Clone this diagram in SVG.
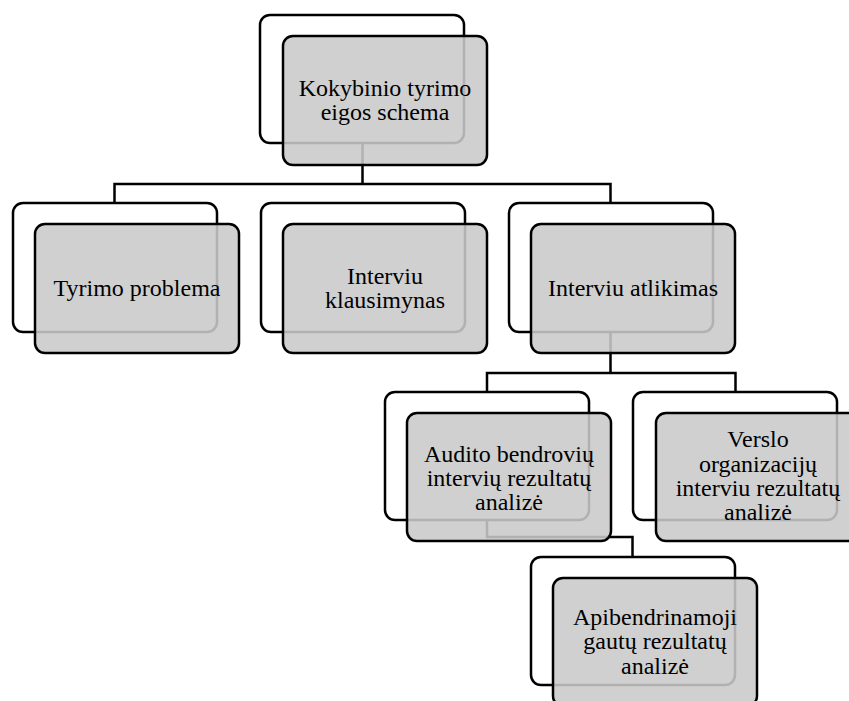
<svg xmlns="http://www.w3.org/2000/svg" width="849" height="701" viewBox="0 0 849 701">
<style>
.back{fill:#ffffff;stroke:#000;stroke-width:2.5}
.front{fill:#cacaca;fill-opacity:0.88;stroke:#000;stroke-width:2.5}
.conn{fill:none;stroke:#000;stroke-width:2.5}
text{font-family:"Liberation Serif","Times New Roman",serif;font-size:24px;fill:#000;text-anchor:middle}
</style>
<rect width="849" height="701" fill="#fff"/>
<g id="connectors">
<path class="conn" d="M362.5,143 V184 M114.5,203 V184 H610.5 V203"/>
<path class="conn" d="M610.5,332 V373 M487,392 V373 H735.5 V392"/>
<path class="conn" d="M487,520 V537 H632.5 V557"/>
</g>
<g id="n-top">
<rect class="back" x="260" y="15" width="204" height="128" rx="10"/>
<rect class="front" x="283" y="36" width="204" height="129" rx="10"/>
<text x="385" y="96">Kokybinio tyrimo</text>
<text x="385" y="120">eigos schema</text>
</g>
<g id="n-problema">
<rect class="back" x="13" y="203" width="204" height="129" rx="10"/>
<rect class="front" x="35" y="224" width="204" height="129" rx="10"/>
<text x="137" y="296">Tyrimo problema</text>
</g>
<g id="n-klausimynas">
<rect class="back" x="261" y="203" width="204" height="129" rx="10"/>
<rect class="front" x="283" y="224" width="204" height="129" rx="10"/>
<text x="385" y="284">Interviu</text>
<text x="385" y="308">klausimynas</text>
</g>
<g id="n-atlikimas">
<rect class="back" x="509" y="203" width="204" height="129" rx="10"/>
<rect class="front" x="531" y="224" width="204" height="129" rx="10"/>
<text x="633" y="296">Interviu atlikimas</text>
</g>
<g id="n-audito">
<rect class="back" x="385" y="392" width="204" height="128" rx="10"/>
<rect class="front" x="407" y="413" width="204" height="128" rx="10"/>
<text x="509" y="462">Audito bendrovių</text>
<text x="509" y="486">intervių rezultatų</text>
<text x="509" y="510">analizė</text>
</g>
<g id="n-verslo">
<rect class="back" x="633" y="392" width="204" height="128" rx="10"/>
<rect class="front" x="656" y="413" width="204" height="128" rx="10"/>
<text x="758" y="447">Verslo</text>
<text x="758" y="472">organizacijų</text>
<text x="758" y="496">interviu rezultatų</text>
<text x="758" y="520">analizė</text>
</g>
<g id="n-apibendrinamoji">
<rect class="back" x="531" y="557" width="204" height="128" rx="10"/>
<rect class="front" x="553" y="578" width="204" height="128" rx="10"/>
<text x="655" y="625">Apibendrinamoji</text>
<text x="655" y="649">gautų rezultatų</text>
<text x="655" y="674">analizė</text>
</g>
</svg>
